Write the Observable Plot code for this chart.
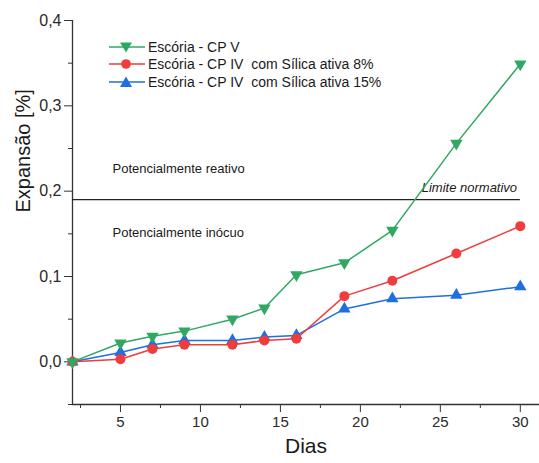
<!DOCTYPE html>
<html>
<head>
<meta charset="utf-8">
<script src="https://cdn.jsdelivr.net/npm/d3@7"></script>
<script src="https://cdn.jsdelivr.net/npm/@observablehq/plot@0.6"></script>
<style>
  html, body { margin: 0; padding: 0; background: #fff; }
  #wrap { position: relative; width: 539px; height: 463px; font-family: "Liberation Sans", Arial, sans-serif; }
  #legend { position: absolute; left: 108px; top: 38px; font-size: 14px; color: #1a1a1a; }
  #legend .row { display: flex; align-items: center; height: 17.5px; }
  #legend svg { margin-right: 2px; }
</style>
</head>
<body>
<div id="wrap"><div id="legend"></div></div>
<script>
const days = [2, 5, 7, 9, 12, 14, 16, 19, 22, 26, 30];
const seriesNames = [
  "Escória - CP V",
  "Escória - CP IV  com Sílica ativa 8%",
  "Escória - CP IV  com Sílica ativa 15%"
];
const cpV      = [0.000, 0.022, 0.030, 0.036, 0.050, 0.063, 0.102, 0.116, 0.154, 0.256, 0.349];
const silica8  = [0.000, 0.003, 0.015, 0.020, 0.020, 0.025, 0.027, 0.077, 0.095, 0.127, 0.159];
const silica15 = [0.000, 0.011, 0.020, 0.025, 0.025, 0.029, 0.031, 0.062, 0.074, 0.078, 0.088];
const colors = ["#2fa862", "#f03c3c", "#1f6fe0"];
const symbols = ["triangle", "circle", "triangle"];
const rotations = [180, 0, 0];
const xTicks = [5, 10, 15, 20, 25, 30];
const xMinor = [2.5, 7.5, 12.5, 17.5, 22.5, 27.5];
const yTicks = [0, 0.1, 0.2, 0.3, 0.4];
const yMinor = [-0.05, 0.05, 0.15, 0.25, 0.35];
const limite = 0.19;
const annotations = [
  {x: 4.5, y: 0.226, text: "Potencialmente reativo", italic: false, anchor: "start"},
  {x: 4.5, y: 0.151, text: "Potencialmente inócuo", italic: false, anchor: "start"},
  {x: 29.8, y: 0.204, text: "Limite normativo", italic: true, anchor: "end"}
];

const allSeries = [cpV, silica8, silica15];
const data = allSeries.flatMap((vals, i) => vals.map((v, j) => ({day: days[j], value: v, s: i})));
const fmt = d => d3.format(".1f")(d).replace(".", ",");

const marks = [
  Plot.ruleX([2], {stroke: "#333", strokeWidth: 1.3}),
  Plot.ruleY([-0.05], {stroke: "#333", strokeWidth: 1.3}),
  Plot.axisY(yTicks, {tickSize: 8, tickPadding: 3, tickFormat: fmt, fontSize: 16, color: "#2a2a2a", label: null, stroke: "#333"}),
  Plot.axisY(yMinor, {tickSize: 4, text: null, label: null, stroke: "#333"}),
  Plot.axisX(xTicks, {tickSize: 8, tickPadding: 4, fontSize: 15, color: "#2a2a2a", label: null, stroke: "#333"}),
  Plot.axisX(xMinor, {tickSize: 4, text: null, label: null, stroke: "#333"}),
  Plot.ruleY([limite], {x1: 2, x2: 30, stroke: "#222", strokeWidth: 1.3}),
  ...annotations.map(a => Plot.text([a], {x: "x", y: "y", text: "text", textAnchor: a.anchor, fontSize: 13, fill: "#1a1a1a", fontStyle: a.italic ? "italic" : "normal"})),
];
[2, 1, 0].forEach(i => {
  const d = data.filter(r => r.s === i);
  marks.push(Plot.line(d, {x: "day", y: "value", stroke: colors[i], strokeWidth: 1.5}));
  marks.push(Plot.dot(d, {x: "day", y: "value", fill: colors[i], stroke: "none", symbol: symbols[i], r: i === 1 ? 5 : 4.6, rotate: rotations[i]}));
});
marks.push(Plot.text(["Expansão [%]"], {frameAnchor: "left", rotate: -90, dx: -49, fontSize: 20, fill: "#1a1a1a"}));
marks.push(Plot.text(["Dias"], {frameAnchor: "bottom", dy: 48, fontSize: 21, fill: "#1a1a1a"}));

const chart = Plot.plot({
  width: 539,
  height: 463,
  marginLeft: 72,
  marginRight: 0,
  marginTop: 20,
  marginBottom: 59,
  style: {fontFamily: "Liberation Sans, Arial, sans-serif", background: "#fff"},
  x: {domain: [2, 31.2]},
  y: {domain: [-0.05, 0.4]},
  marks
});
const wrap = document.getElementById("wrap");
wrap.insertBefore(chart, wrap.firstChild);

const legend = document.getElementById("legend");
seriesNames.forEach((name, i) => {
  const row = document.createElement("div");
  row.className = "row";
  const sym = i === 1
    ? `<circle cx="18" cy="7" r="4.8" fill="${colors[i]}"/>`
    : (i === 0
      ? `<path d="M12,2.5 L24,2.5 L18,12.5 Z" fill="${colors[i]}"/>`
      : `<path d="M12,12 L24,12 L18,1.5 Z" fill="${colors[i]}"/>`);
  row.innerHTML = `<svg width="38" height="14"><line x1="1" x2="37" y1="7" y2="7" stroke="${colors[i]}" stroke-width="1.5"/>${sym}</svg><span>${name.replace(/  /g, "&nbsp; ")}</span>`;
  legend.appendChild(row);
});
</script>
</body>
</html>
